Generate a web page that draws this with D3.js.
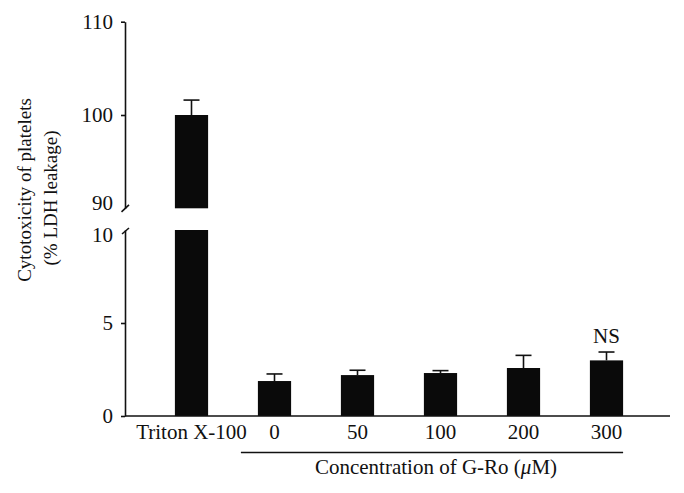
<!DOCTYPE html>
<html><head><meta charset="utf-8">
<script src="https://cdn.jsdelivr.net/npm/d3@7/dist/d3.min.js"></script>
<style>body{margin:0;background:#fff;}</style>
</head><body>
<svg id="c" width="684" height="493"></svg>
<script>
const categories = ["Triton X-100", "0", "50", "100", "200", "300"];
const values = [100, 1.88, 2.2, 2.31, 2.58, 2.99];
const errors = [1.6, 0.38, 0.26, 0.13, 0.68, 0.45];
const annotations = ["", "", "", "", "", "NS"];
const lowTicks = [0, 5, 10];
const highTicks = [90, 100, 110];
const xTitle = "Concentration of G-Ro (";
const yTitle1 = "Cytotoxicity of platelets";
const yTitle2 = "(% LDH leakage)";

const FONT = "Liberation Serif";
const svg = d3.select("#c");
const axisX = 125;
const x = d3.scaleBand().domain(categories).range([150, 648]).paddingInner(0.6).paddingOuter(0.3);
const yLow = d3.scaleLinear().domain([0, 10]).range([416, 230]);
const yHigh = d3.scaleLinear().domain([90, 110]).range([208.3, 21.7]);
const ink = "#111";
const data = categories.map((c, i) => ({c, v: values[i], e: errors[i], a: annotations[i]}));

function txt(sel) { return sel.attr("font-family", FONT).attr("fill", "#111"); }

// bars
data.forEach(d => {
  const bx = x(d.c), bw = x.bandwidth(), cx = bx + bw / 2;
  let top, barTop;
  if (d.v > 10) {
    svg.append("rect").attr("x", bx).attr("width", bw)
      .attr("y", yLow(10)).attr("height", yLow(0) - yLow(10)).attr("fill", "#0a0a0a");
    svg.append("rect").attr("x", bx).attr("width", bw)
      .attr("y", yHigh(d.v)).attr("height", yHigh(90) - yHigh(d.v)).attr("fill", "#0a0a0a");
    top = yHigh(d.v + d.e); barTop = yHigh(d.v);
  } else {
    svg.append("rect").attr("x", bx).attr("width", bw)
      .attr("y", yLow(d.v)).attr("height", yLow(0) - yLow(d.v)).attr("fill", "#0a0a0a");
    top = yLow(d.v + d.e); barTop = yLow(d.v);
  }
  svg.append("line").attr("x1", cx).attr("x2", cx).attr("y1", barTop).attr("y2", top).attr("stroke", ink).attr("stroke-width", 1.6);
  svg.append("line").attr("x1", cx - 8).attr("x2", cx + 8).attr("y1", top).attr("y2", top).attr("stroke", ink).attr("stroke-width", 1.6);
  if (d.a) txt(svg.append("text")).attr("x", cx).attr("y", top - 9).attr("text-anchor", "middle").attr("font-size", 21).text(d.a);
});

// y axes
const gLow = svg.append("g").attr("transform", `translate(${axisX},0)`)
  .call(d3.axisLeft(yLow).tickValues(lowTicks).tickSize(4).tickPadding(8).tickSizeOuter(0));
const gHigh = svg.append("g").attr("transform", `translate(${axisX},0)`)
  .call(d3.axisLeft(yHigh).tickValues(highTicks).tickSize(4).tickPadding(8).tickSizeOuter(0));
[gLow, gHigh].forEach(g => {
  g.attr("font-family", FONT);
  g.select(".domain").attr("stroke", ink).attr("stroke-width", 1.6);
  g.selectAll(".tick line").attr("stroke", ink).attr("stroke-width", 1.6);
  txt(g.selectAll(".tick text")).attr("font-size", 21);
});
// break-adjacent ticks are replaced by slashes
gLow.selectAll(".tick").filter(d => d === 10).select("line").remove();
gLow.selectAll(".tick").filter(d => d === 10).select("text").attr("dy", "0.55em");
gHigh.selectAll(".tick").filter(d => d === 90).select("line").remove();
gHigh.selectAll(".tick").filter(d => d === 90).select("text").attr("dy", "0.05em");
// break marks
svg.append("line").attr("x1", axisX - 3.5).attr("y1", yHigh(90) + 3.5).attr("x2", axisX + 4).attr("y2", yHigh(90) - 3.5).attr("stroke", ink).attr("stroke-width", 1.6);
svg.append("line").attr("x1", axisX - 3).attr("y1", yLow(10) + 4).attr("x2", axisX + 4).attr("y2", yLow(10) - 2).attr("stroke", ink).attr("stroke-width", 1.6);

// x baseline
svg.append("line").attr("x1", axisX).attr("x2", 670).attr("y1", yLow(0)).attr("y2", yLow(0)).attr("stroke", ink).attr("stroke-width", 1.6);
// category labels
categories.forEach(c => {
  txt(svg.append("text")).attr("x", x(c) + x.bandwidth() / 2).attr("y", 439).attr("text-anchor", "middle").attr("font-size", 21).text(c);
});
// group underline
svg.append("line").attr("x1", x("0") - 17).attr("x2", x("300") + x.bandwidth()).attr("y1", 452.5).attr("y2", 452.5).attr("stroke", ink).attr("stroke-width", 1.6);
const t = txt(svg.append("text")).attr("x", 436).attr("y", 474).attr("text-anchor", "middle").attr("font-size", 21);
t.append("tspan").text(xTitle);
t.append("tspan").attr("font-style", "italic").text("\u03bc");
t.append("tspan").text("M)");

// y title
txt(svg.append("text")).attr("transform", "translate(31,190) rotate(-90)").attr("text-anchor", "middle").attr("font-size", 19).text(yTitle1);
txt(svg.append("text")).attr("transform", "translate(57,198) rotate(-90)").attr("text-anchor", "middle").attr("font-size", 19).text(yTitle2);
</script>
</body></html>
